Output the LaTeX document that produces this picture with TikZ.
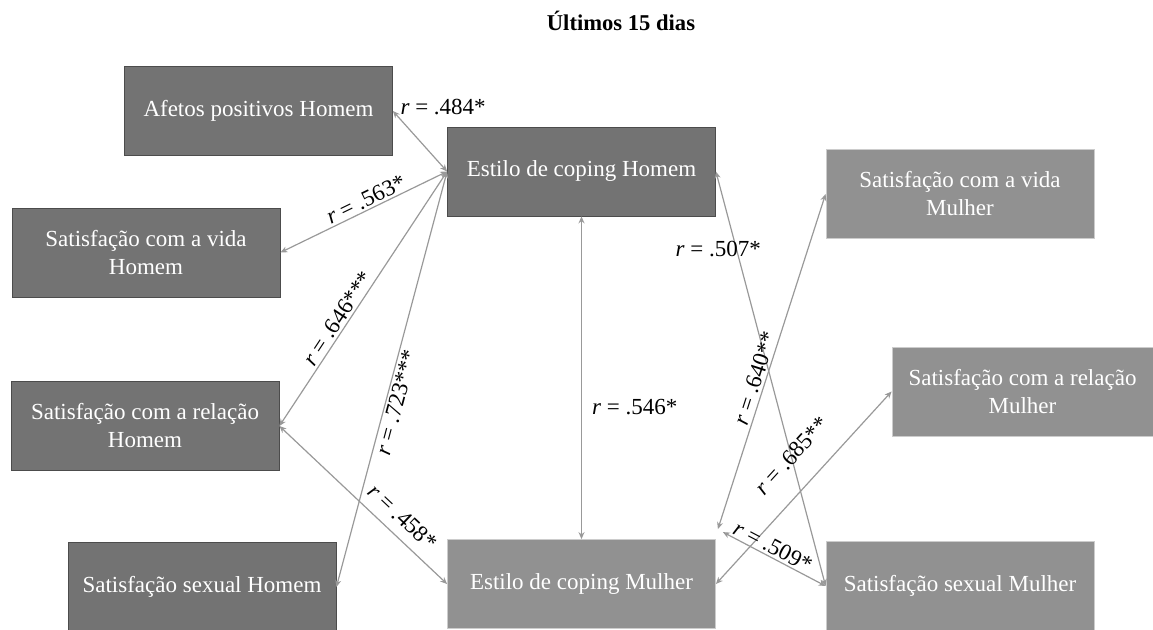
\documentclass[tikz,border=0pt]{standalone}
\usepackage{fontspec}
\setmainfont{Liberation Serif}
\usetikzlibrary{arrows.meta}

\begin{document}
\begin{tikzpicture}[x=0.5pt,y=-0.5pt,
  homem/.style={draw=black!70,fill=black!55,text=white,minimum width=134pt,minimum height=44.5pt,align=center,font=\fontsize{11.5}{14}\selectfont},
  mulher/.style={homem,draw=black!20,fill=black!43},
  corr/.style={draw=black!40,line width=0.6pt,{Stealth[length=3.5pt,width=3pt]}-{Stealth[length=3.5pt,width=3pt]}},
  lbl/.style={font=\fontsize{11.5}{14}\selectfont,inner sep=1pt}]
\useasboundingbox (0,0) rectangle (1153,630);
\node[font=\bfseries\fontsize{11.3}{13}\selectfont] (titulo) at (621,21) {Últimos 15 dias};
% Homem
\node[homem] (afH) at (258.5,111) {Afetos positivos Homem};
\node[homem] (vidaH) at (146,252.5) {Satisfação com a vida\\Homem};
\node[homem] (relH) at (145,426) {Satisfação com a relação\\Homem};
\node[homem] (sexH) at (202,587) {Satisfação sexual Homem};
\node[homem] (copH) at (581.5,171.5) {Estilo de coping Homem};
% Mulher
\node[mulher] (copM) at (581.5,584) {Estilo de coping Mulher};
\node[mulher] (vidaM) at (960,194) {Satisfação com a vida\\Mulher};
\node[mulher,minimum width=130.5pt] (relM) at (1022.5,391.5) {Satisfação com a relação\\Mulher};
\node[mulher] (sexM) at (960,586) {Satisfação sexual Mulher};
% correlacoes
\draw[corr] (afH.east) -- node[lbl,pos=0,anchor=west,xshift=2.5pt,yshift=2pt]{\textit{r} = .484*} (copH.west);
\draw[corr] (vidaH.east) -- node[lbl,sloped,above,pos=0.54]{\textit{r} = .563*} (copH.west);
\draw[corr] (relH.east) -- node[lbl,sloped,above,pos=0.4]{\textit{r} = .646***} (copH.west);
\draw[corr] (sexH.east) -- node[lbl,sloped,below,pos=0.45]{\textit{r} = .723***} (copH.west);
\draw[corr] (relH.east) -- node[lbl,sloped,above=4pt,pos=0.66]{\textit{r} = .458*} (copM.west);
\draw[corr] (copH.south) -- node[lbl,pos=0.59,anchor=west,xshift=4pt]{\textit{r} = .546*} (copM.north);
\draw[corr] (copH.east) -- node[lbl,pos=0.186,xshift=-9pt]{\textit{r} = .507*} (sexM.west);
\draw[corr] ([xshift=1pt,yshift=5pt]copM.north east) -- node[lbl,sloped,above,pos=0.44]{\textit{r} = .640**} (vidaM.west);
\draw[corr] (copM.east) -- node[lbl,sloped,above=10pt,pos=0.56]{\textit{r} = .685**} (relM.west);
\draw[corr] ([xshift=3.5pt,yshift=3.5pt]copM.north east) -- node[lbl,sloped,above,pos=0.44]{\textit{r} = .509*} (sexM.west);
\end{tikzpicture}
\end{document}
